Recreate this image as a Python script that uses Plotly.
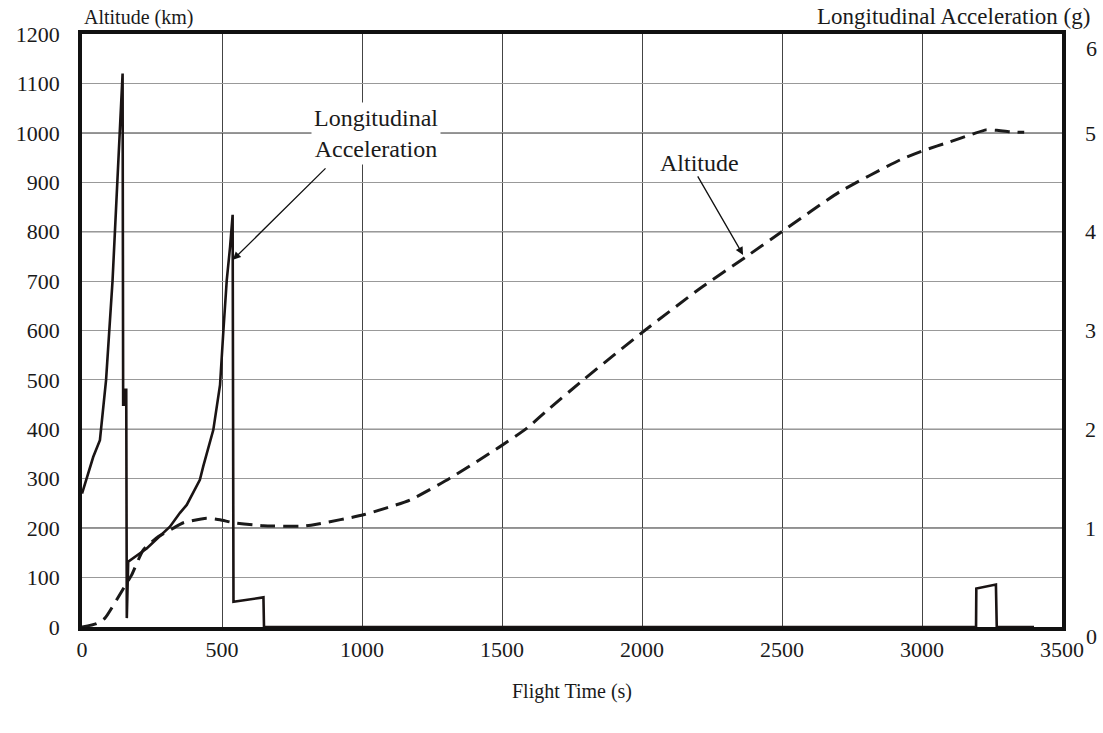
import plotly.graph_objects as go

# Longitudinal acceleration (g) vs flight time (s)
acc_t = [0, 20, 40, 64, 86, 109, 127, 145, 147, 151, 152, 158, 160, 165, 231, 314, 350, 374, 421,
         433, 469, 493, 505, 517, 529, 538, 541, 648, 650, 3193, 3194, 3264, 3267, 3400]
acc_g = [1.35, 1.54, 1.72, 1.89, 2.5, 3.5, 4.55, 5.6, 2.25, 2.25, 2.4, 2.4, 0.09, 0.66, 0.795,
         1.015, 1.155, 1.235, 1.49, 1.625, 1.995, 2.45, 3.0, 3.51, 3.85, 4.17, 0.255, 0.30, 0.0,
         0.0, 0.39, 0.43, 0.0, 0.0]

# Altitude (km) vs flight time (s)
alt_t = [0, 52, 82, 148, 177, 219, 273, 326, 362, 445, 493, 541, 648, 790, 838, 1005, 1171, 1314,
         1493, 1588, 1671, 1790, 2005, 2207, 2374, 2499, 2707, 2921, 3005, 3100, 3183, 3229, 3267,
         3314, 3365]
alt_km = [0, 7, 18, 78, 105, 156, 183, 200, 211, 220, 217, 211, 205, 204, 208, 227, 257, 301,
          365, 402, 443, 500, 598, 685, 750, 800, 881, 945, 964, 982, 998, 1006, 1005, 1002, 1001]

x_ticks = [0, 500, 1000, 1500, 2000, 2500, 3000, 3500]
y_ticks = list(range(0, 1201, 100))
y2_grid = [0, 1, 2, 3, 4, 5, 6]
y2_inner_ticks = [1, 2, 3, 4, 5]
y2_end_ticks = [0, 6]

FONT = "Liberation Serif, Times New Roman, serif"

fig = go.Figure()
fig.add_trace(go.Scatter(x=alt_t, y=alt_km, mode="lines", yaxis="y",
                         line=dict(color="#1a1a1a", width=3, dash="15px,8px", shape="spline", smoothing=0.5),
                         name="Altitude", showlegend=False))
fig.add_trace(go.Scatter(x=acc_t, y=acc_g, mode="lines", yaxis="y2",
                         line=dict(color="#1a1414", width=2.6),
                         name="Longitudinal Acceleration", showlegend=False))

annotations = [
    dict(text="Altitude (km)", xref="paper", yref="paper", x=0, y=1, xanchor="left",
         yanchor="bottom", yshift=3, showarrow=False, font=dict(size=20)),
    dict(text="Longitudinal Acceleration (g)", xref="paper", yref="paper", x=1, y=1,
         xanchor="right", yanchor="bottom", xshift=30, yshift=3, showarrow=False,
         font=dict(size=23)),
    dict(text="Longitudinal<br>Acceleration", x=1050, y=998, xref="x", yref="y",
         showarrow=False, bgcolor="white", font=dict(size=24), borderpad=2),
    dict(text="Altitude", x=2207, y=939, xref="x", yref="y", showarrow=False,
         bgcolor="white", font=dict(size=24)),
    dict(text="", x=539, y=743, xref="x", yref="y", ax=875, ay=931, axref="x", ayref="y",
         showarrow=True, arrowhead=2, arrowsize=1.2, arrowwidth=1.3, arrowcolor="#111"),
    dict(text="", x=2361, y=753, xref="x", yref="y", ax=2196, ay=915, axref="x", ayref="y",
         showarrow=True, arrowhead=2, arrowsize=1.2, arrowwidth=1.3, arrowcolor="#111"),
]
# end labels of the right axis, nudged down as in the original
for v, shift in zip(y2_end_ticks, [-9, -14]):
    annotations.append(dict(text=str(v), xref="paper", yref="y2", x=1, y=v, xanchor="left",
                            xshift=22, yshift=shift, showarrow=False, font=dict(size=22)))

fig.update_layout(
    width=1103, height=733,
    margin=dict(l=82, r=41, t=34, b=106),
    paper_bgcolor="white", plot_bgcolor="white",
    font=dict(family=FONT, size=22, color="#1a1a1a"),
    xaxis=dict(range=[0, 3500], tickvals=x_ticks, showgrid=True, gridcolor="#444", gridwidth=1,
               showline=True, linecolor="#111", linewidth=3.5, mirror=True, zeroline=False,
               ticks="", ticklabelstandoff=0, tickfont=dict(size=22), automargin=False,
               title=dict(text="Flight Time (s)", standoff=24, font=dict(size=20))),
    yaxis=dict(range=[0, 1200], tickvals=y_ticks, showgrid=True, gridcolor="#999", gridwidth=1,
               showline=True, linecolor="#111", linewidth=3.5, mirror=True, zeroline=False,
               ticks="", ticklabelstandoff=14, tickfont=dict(size=22), automargin=False),
    yaxis2=dict(range=[0, 6], tickvals=y2_inner_ticks, overlaying="y", side="right",
                showgrid=False, zeroline=False, showline=False, ticks="", automargin=False,
                ticklabelstandoff=22, tickfont=dict(size=22)),
    shapes=[dict(type="line", xref="paper", yref="y2", x0=0, x1=1, y0=v, y1=v,
                 line=dict(color="#222", width=1.2), layer="below") for v in y2_grid[1:-1]],
    annotations=annotations,
)

fig.write_html("out.html")
